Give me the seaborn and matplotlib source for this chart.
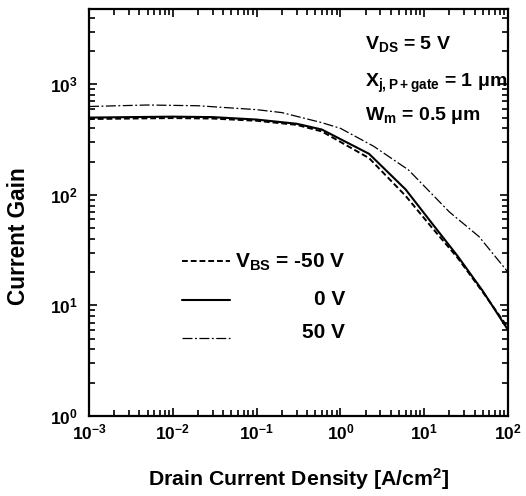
import matplotlib
matplotlib.use("Agg")
import matplotlib.pyplot as plt
from matplotlib.ticker import LogLocator, NullFormatter
import seaborn as sns
import pandas as pd
import numpy as np

# ---- data ----
x_m50 = [1e-3, 3e-3, 1e-2, 3e-2, 0.1, 0.3, 0.6, 2.2, 6.0, 12, 25, 50, 100]
y_m50 = [485, 490, 495, 490, 468, 430, 375, 215, 98, 52, 27, 13.2, 6.3]

x_0 = [1e-3, 3e-3, 1e-2, 3e-2, 0.1, 0.3, 0.6, 2.2, 6.0, 12, 25, 50, 100]
y_0 = [500, 505, 510, 505, 480, 440, 390, 235, 112, 57, 28, 13.5, 6.0]

x_p50 = [1e-3, 5e-3, 2e-2, 0.1, 0.2, 0.6, 1.0, 2.5, 6.5, 20, 45, 100]
y_p50 = [630, 650, 640, 590, 555, 450, 400, 275, 168, 70, 42, 20]

legend_labels = [r"$\mathregular{V_{BS}}$ = -50 V", "0 V", "50 V"]
annotations = [r"$\mathregular{V_{DS}}$ = 5 V",
               r"$\mathregular{X_{j,P+gate}}$ = 1 μm",
               r"$\mathregular{W_m}$ = 0.5 μm"]

sns.set_theme(style="ticks")
plt.rcParams["font.family"] = ["Liberation Sans", "DejaVu Sans"]
plt.rcParams["font.weight"] = "bold"
plt.rcParams["mathtext.fontset"] = "custom"
plt.rcParams["mathtext.rm"] = "Liberation Sans:bold"
plt.rcParams["mathtext.it"] = "Liberation Sans:italic:bold"
plt.rcParams["mathtext.bf"] = "Liberation Sans:bold"
plt.rcParams["mathtext.default"] = "bf"
plt.rcParams["text.color"] = "black"
plt.rcParams["axes.labelcolor"] = "black"
plt.rcParams["axes.labelweight"] = "bold"
plt.rcParams["xtick.color"] = "black"
plt.rcParams["ytick.color"] = "black"
plt.rcParams["axes.axisbelow"] = False

fig = plt.figure(figsize=(5.26, 4.96), dpi=100)
ax = fig.add_axes([89/526, 1-416/496, (508-89)/526, (416-9)/496])
ax.set_axisbelow(False)
ax.set_xscale("log")
ax.set_yscale("log")

df1 = pd.DataFrame({"x": x_m50, "y": y_m50})
df2 = pd.DataFrame({"x": x_0, "y": y_0})
df3 = pd.DataFrame({"x": x_p50, "y": y_p50})

sns.lineplot(data=df1, x="x", y="y", ax=ax, color="black", lw=1.4,
             linestyle=(0, (3, 1.5)), sort=False)
sns.lineplot(data=df2, x="x", y="y", ax=ax, color="black", lw=1.5,
             linestyle="-", sort=False)
sns.lineplot(data=df3, x="x", y="y", ax=ax, color="black", lw=0.9,
             linestyle=(0, (8, 2, 1.5, 2)), sort=False)

ax.set_xlim(1e-3, 1e2)
ax.set_ylim(1, 4800)

ax.xaxis.set_major_locator(LogLocator(base=10, numticks=20))
ax.yaxis.set_major_locator(LogLocator(base=10, numticks=20))
ax.xaxis.set_minor_locator(LogLocator(base=10, subs=np.arange(2, 10) * 1.0, numticks=200))
ax.yaxis.set_minor_locator(LogLocator(base=10, subs=np.arange(2, 10) * 1.0, numticks=200))
ax.xaxis.set_minor_formatter(NullFormatter())
ax.yaxis.set_minor_formatter(NullFormatter())

for s in ax.spines.values():
    s.set_linewidth(1.6)
    s.set_color("black")
    s.set_visible(True)

ax.tick_params(which="both", direction="in", top=True, right=True, colors="black")
ax.tick_params(which="major", length=6, width=1.2, labelsize=12.5)
ax.tick_params(which="minor", length=4, width=1.2)
ax.tick_params(axis="x", which="major", pad=5)
ax.tick_params(axis="y", which="major", pad=8)

ax.set_xlabel("Drain Current Density [A/cm$^2$]", fontsize=15.3, labelpad=17)
ax.set_ylabel("Current Gain", fontsize=16.3)
ax.yaxis.set_label_coords(-0.141, 0.442)

lines = ax.get_lines()[:3]
leg = ax.legend(lines, ["", "", ""], loc="upper left",
                bbox_to_anchor=(0.222, 0.397), frameon=False,
                borderaxespad=0, borderpad=0, handlelength=2.67,
                labelspacing=1.2, handletextpad=0, fontsize=13)

for lab, yf in zip(legend_labels, [0.364, 0.273, 0.192]):
    ax.text(0.611, yf, lab, transform=ax.transAxes, ha="right", va="baseline",
            fontsize=15)

for txt, yf in zip(annotations, [0.901, 0.809, 0.727]):
    ax.text(0.659, yf, txt, transform=ax.transAxes, ha="left", va="baseline",
            fontsize=14)

fig.savefig("out.png", dpi=100)
